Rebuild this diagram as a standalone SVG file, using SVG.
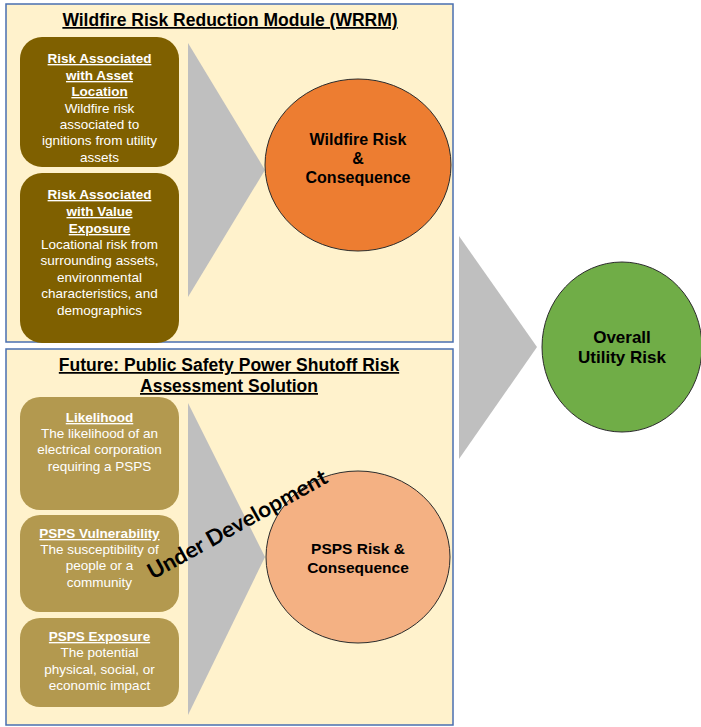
<svg xmlns="http://www.w3.org/2000/svg" width="701" height="727" viewBox="0 0 701 727">
<style>
.panel{fill:#FFF2CC;stroke:#4A6FB0;stroke-width:1.5}
.dark{fill:#7F6000}
.light{fill:#B3994F}
.tri{fill:#BFBFBF}
.bt{font-family:"Liberation Sans",Arial,sans-serif;font-size:13.5px;fill:#FFFFFF;text-anchor:middle}
.bh{font-weight:bold;text-decoration:underline}
.title{font-family:"Liberation Sans",Arial,sans-serif;font-size:17.5px;font-weight:bold;fill:#000;text-anchor:middle;text-decoration:underline}
.ct{font-family:"Liberation Sans",Arial,sans-serif;font-size:16px;font-weight:bold;fill:#000;text-anchor:middle}
.circ{stroke:#2b2b2b;stroke-width:1}
</style>
<rect width="701" height="727" fill="#FFFFFF"/>
<g id="wrrm-panel">
<rect class="panel" x="6" y="4" width="447" height="338"/>
<text class="title" x="230" y="26">Wildfire Risk Reduction Module (WRRM)</text>
</g>
<g id="psps-panel">
<rect class="panel" x="6" y="349" width="447" height="376"/>
<text class="title" x="229" y="371">Future: Public Safety Power Shutoff Risk</text>
<text class="title" x="229" y="392">Assessment Solution</text>
</g>
<g id="connectors">
<polygon class="tri" points="188,43 265,170 188,297"/>
<polygon class="tri" points="188,403 265,557 188,715"/>
<polygon class="tri" points="459,236 537,347 459,459"/>
</g>
<g id="asset-location">
<rect class="dark" x="20" y="37" width="159" height="130" rx="22"/>
<text class="bt"><tspan class="bh" x="99.5" y="63">Risk Associated</tspan><tspan class="bh" x="99.5" y="80">with Asset</tspan><tspan class="bh" x="99.5" y="96">Location</tspan><tspan x="99.5" y="113">Wildfire risk</tspan><tspan x="99.5" y="129">associated to</tspan><tspan x="99.5" y="145">ignitions from utility</tspan><tspan x="99.5" y="162">assets</tspan></text>
</g>
<g id="value-exposure">
<rect class="dark" x="20" y="173" width="159" height="170" rx="22"/>
<text class="bt"><tspan class="bh" x="99.5" y="199">Risk Associated</tspan><tspan class="bh" x="99.5" y="216">with Value</tspan><tspan class="bh" x="99.5" y="233">Exposure</tspan><tspan x="99.5" y="249">Locational risk from</tspan><tspan x="99.5" y="265">surrounding assets,</tspan><tspan x="99.5" y="282">environmental</tspan><tspan x="99.5" y="298">characteristics, and</tspan><tspan x="99.5" y="315">demographics</tspan></text>
</g>
<g id="wildfire-risk">
<ellipse class="circ" cx="358" cy="165" rx="93" ry="86" fill="#ED7D31"/>
<text class="ct"><tspan x="358" y="145">Wildfire Risk</tspan><tspan x="358" y="164">&amp;</tspan><tspan x="358" y="183">Consequence</tspan></text>
</g>
<g id="likelihood">
<rect class="light" x="20" y="397" width="159" height="113" rx="20"/>
<text class="bt"><tspan class="bh" x="99.5" y="422">Likelihood</tspan><tspan x="99.5" y="438">The likelihood of an</tspan><tspan x="99.5" y="454">electrical corporation</tspan><tspan x="99.5" y="471">requiring a PSPS</tspan></text>
</g>
<g id="psps-vulnerability">
<rect class="light" x="20" y="515" width="159" height="97" rx="20"/>
<text class="bt"><tspan class="bh" x="99.5" y="538">PSPS Vulnerability</tspan><tspan x="99.5" y="554">The susceptibility of</tspan><tspan x="99.5" y="570">people or a</tspan><tspan x="99.5" y="587">community</tspan></text>
</g>
<g id="psps-exposure">
<rect class="light" x="20" y="618" width="159" height="89" rx="20"/>
<text class="bt"><tspan class="bh" x="99.5" y="641">PSPS Exposure</tspan><tspan x="99.5" y="657">The potential</tspan><tspan x="99.5" y="674">physical, social, or</tspan><tspan x="99.5" y="690">economic impact</tspan></text>
</g>
<g id="psps-risk">
<ellipse class="circ" cx="358" cy="557" rx="92" ry="86" fill="#F4B183"/>
<text class="ct" style="font-size:15.5px"><tspan x="358" y="554">PSPS Risk &amp;</tspan><tspan x="358" y="573">Consequence</tspan></text>
</g>
<g id="under-development">
<text x="241" y="531" transform="rotate(-29 241 531)" font-family="Lato,'Liberation Sans',sans-serif" font-size="22" font-weight="bold" fill="#000" text-anchor="middle" textLength="202" lengthAdjust="spacingAndGlyphs">Under Development</text>
</g>
<g id="overall-risk">
<ellipse class="circ" cx="622" cy="347" rx="80" ry="85" fill="#70AD47"/>
<text class="ct" style="font-size:17px"><tspan x="622" y="343">Overall</tspan><tspan x="622" y="363">Utility Risk</tspan></text>
</g>
</svg>
